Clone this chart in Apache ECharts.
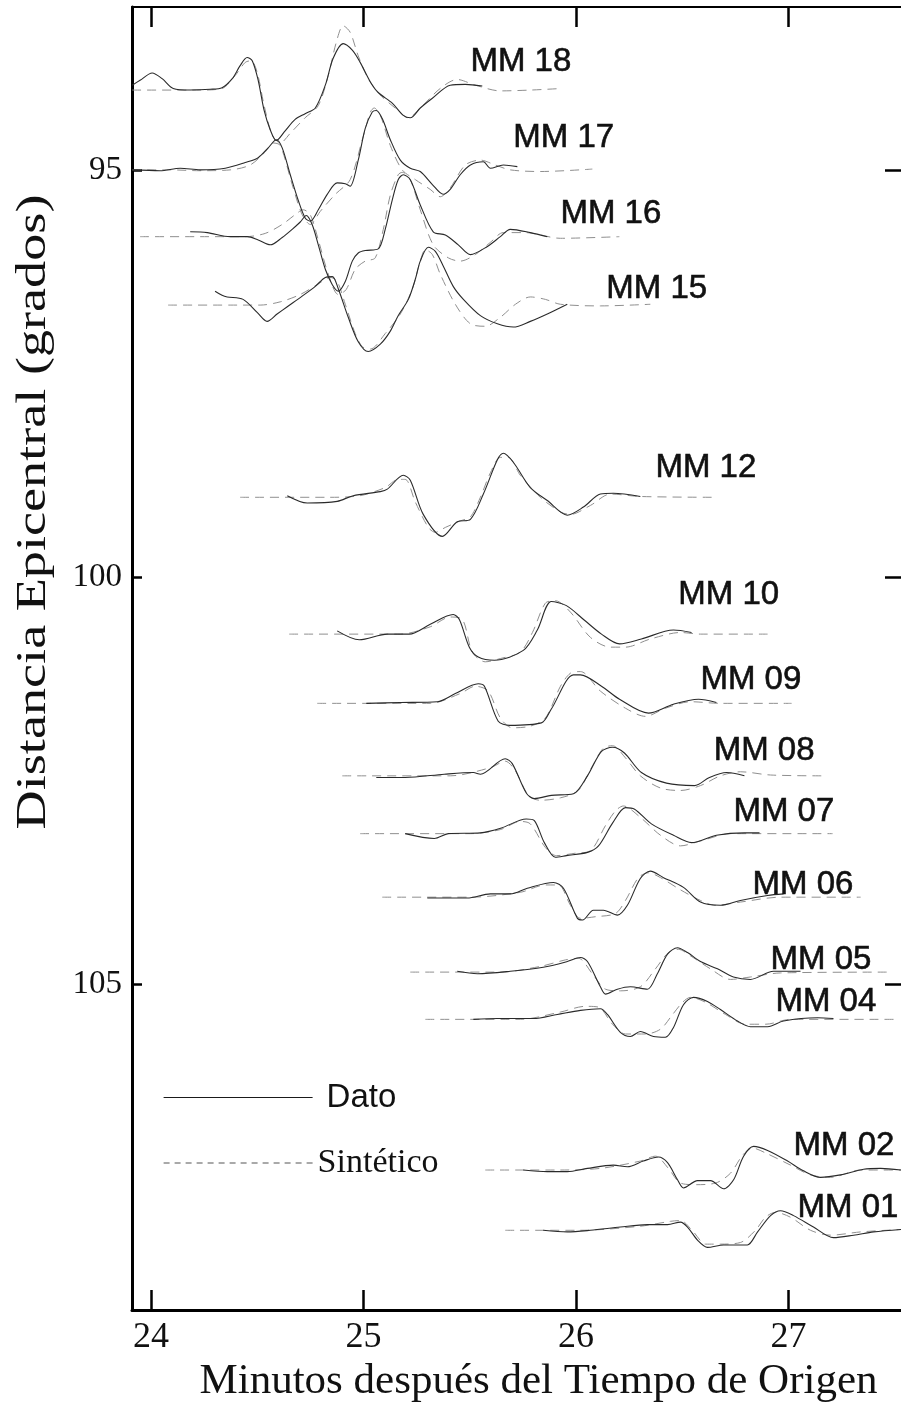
<!DOCTYPE html>
<html>
<head>
<meta charset="utf-8">
<script src="https://cdn.jsdelivr.net/npm/echarts@6/dist/echarts.min.js"></script>
<style>
html,body{margin:0;padding:0;background:#fff;}
#chart{width:901px;height:1408px;}
</style>
</head>
<body>
<div id="chart"></div>
<script>
// ---- axis ticks ----
const xTicks = [24, 25, 26, 27];
const yTicks = [95, 100, 105];

// ---- stations (label, epicentral distance in degrees) ----
const stationNames = ['MM 18','MM 17','MM 16','MM 15','MM 12','MM 10','MM 09','MM 08','MM 07','MM 06','MM 05','MM 04','MM 02','MM 01'];
const stationDist  = [94.01, 95.00, 95.82, 96.66, 99.02, 100.70, 101.55, 102.44, 103.15, 103.93, 104.85, 105.43, 107.28, 108.02];
// label anchor (minutes, degrees)
const labelTime = [25.503, 25.705, 25.927, 26.143, 26.374, 26.482, 26.586, 26.648, 26.741, 26.831, 26.916, 26.939, 27.024, 27.043];
const labelDist = [93.68, 94.61, 95.54, 96.46, 98.66, 100.22, 101.26, 102.13, 102.88, 103.78, 104.70, 105.22, 106.99, 107.74];

// ---- traces: [minutes, amplitude (deg, positive = up)] ----
const mm18Dato = [[23.911,0.05],[23.948,0.11],[24.005,0.20],[24.052,0.13],[24.104,0.01],[24.184,-0.01],[24.278,0],[24.334,0.02],[24.382,0.13],[24.419,0.29],[24.452,0.39],[24.476,0.35],[24.504,0.11],[24.532,-0.26],[24.561,-0.50],[24.589,-0.63],[24.631,-0.51],[24.678,-0.37],[24.725,-0.30],[24.773,-0.23],[24.820,0.05],[24.857,0.38],[24.904,0.56],[24.947,0.48],[24.984,0.33],[25.032,0.09],[25.069,-0.04],[25.135,-0.17],[25.187,-0.32],[25.220,-0.35],[25.267,-0.23],[25.324,-0.11],[25.408,0.05],[25.479,0.06],[25.559,0.04]];
const mm18Sint = [[23.911,-0.01],[24.231,-0.01],[24.334,0.01],[24.396,0.17],[24.443,0.33],[24.471,0.35],[24.499,0.21],[24.532,-0.20],[24.570,-0.56],[24.608,-0.66],[24.655,-0.54],[24.725,-0.35],[24.787,-0.20],[24.834,0.17],[24.871,0.57],[24.904,0.78],[24.937,0.70],[24.975,0.41],[25.022,0.13],[25.079,-0.07],[25.149,-0.23],[25.211,-0.35],[25.267,-0.23],[25.361,0.01],[25.441,0.12],[25.526,0.05],[25.644,-0.02],[25.785,-0.01],[25.936,0.01]];
const mm17Dato = [[23.911,0],[24.042,-0.01],[24.137,0.02],[24.231,0],[24.349,0.02],[24.443,0.09],[24.504,0.15],[24.551,0.27],[24.589,0.37],[24.617,0.27],[24.655,-0.06],[24.692,-0.37],[24.725,-0.59],[24.749,-0.63],[24.787,-0.49],[24.829,-0.30],[24.876,-0.16],[24.914,-0.17],[24.937,-0.20],[24.975,0.12],[25.008,0.51],[25.041,0.71],[25.060,0.73],[25.088,0.63],[25.126,0.37],[25.173,0.12],[25.220,0.02],[25.267,-0.02],[25.324,-0.18],[25.375,-0.30],[25.408,-0.24],[25.455,-0.06],[25.503,0.06],[25.564,0.10],[25.597,0.02],[25.658,0.06],[25.724,0.04]];
const mm17Sint = [[23.911,0],[24.089,0],[24.231,-0.01],[24.372,0],[24.466,0.06],[24.537,0.22],[24.575,0.33],[24.608,0.30],[24.664,-0.18],[24.711,-0.55],[24.749,-0.67],[24.796,-0.51],[24.867,-0.30],[24.937,-0.12],[24.994,0.37],[25.032,0.71],[25.050,0.76],[25.079,0.67],[25.126,0.30],[25.182,0],[25.244,-0.12],[25.314,-0.24],[25.361,-0.33],[25.408,-0.22],[25.479,0.06],[25.550,0.12],[25.620,0.06],[25.691,0],[25.832,-0.02],[26.077,0.01]];
const mm16Dato = [[24.184,0.06],[24.264,0.05],[24.372,0],[24.452,0],[24.504,-0.04],[24.561,-0.10],[24.617,-0.01],[24.664,0.09],[24.702,0.18],[24.730,0.26],[24.758,0.15],[24.787,-0.10],[24.820,-0.40],[24.853,-0.59],[24.881,-0.67],[24.914,-0.55],[24.947,-0.30],[24.975,-0.20],[25.008,-0.17],[25.069,-0.15],[25.102,0.09],[25.135,0.45],[25.163,0.70],[25.187,0.76],[25.220,0.70],[25.267,0.39],[25.328,0.06],[25.385,0.02],[25.446,-0.10],[25.503,-0.22],[25.583,-0.12],[25.644,0],[25.691,0.09],[25.785,0.05],[25.865,0]];
const mm16Sint = [[23.948,0],[24.231,0],[24.443,0],[24.537,0.04],[24.617,0.15],[24.678,0.27],[24.716,0.33],[24.749,0.27],[24.787,-0.04],[24.834,-0.46],[24.881,-0.71],[24.918,-0.65],[24.961,-0.40],[25.008,-0.30],[25.055,-0.26],[25.093,0.09],[25.126,0.51],[25.163,0.76],[25.182,0.79],[25.220,0.70],[25.267,0.33],[25.328,-0.10],[25.399,-0.26],[25.455,-0.30],[25.526,-0.22],[25.597,-0.07],[25.658,0.05],[25.762,0.05],[25.927,-0.02],[26.204,0]];
const mm15Dato = [[24.301,0.17],[24.334,0.12],[24.358,0.10],[24.433,0.07],[24.499,-0.09],[24.546,-0.20],[24.593,-0.11],[24.641,-0.02],[24.711,0.11],[24.773,0.23],[24.820,0.34],[24.853,0.35],[24.881,0.20],[24.928,-0.15],[24.975,-0.45],[25.022,-0.57],[25.079,-0.48],[25.126,-0.32],[25.163,-0.13],[25.211,0.07],[25.244,0.32],[25.267,0.54],[25.305,0.71],[25.338,0.66],[25.375,0.48],[25.422,0.23],[25.470,0.07],[25.550,-0.13],[25.630,-0.23],[25.705,-0.27],[25.785,-0.20],[25.865,-0.11],[25.959,0.01]];
const mm15Sint = [[24.080,0],[24.372,0],[24.513,0],[24.608,0.04],[24.702,0.13],[24.787,0.26],[24.843,0.34],[24.876,0.29],[24.914,0.01],[24.961,-0.35],[24.994,-0.51],[25.032,-0.54],[25.102,-0.35],[25.173,-0.11],[25.230,0.20],[25.267,0.54],[25.291,0.68],[25.324,0.62],[25.361,0.38],[25.432,0.01],[25.503,-0.23],[25.573,-0.26],[25.644,-0.15],[25.715,0.01],[25.785,0.10],[25.856,0.07],[25.927,0.01],[26.115,-0.01],[26.350,0.01]];
const mm12Dato = [[24.641,0.02],[24.735,-0.07],[24.876,-0.05],[24.951,0.02],[25.079,0.07],[25.112,0.10],[25.187,0.27],[25.220,0.21],[25.281,-0.21],[25.371,-0.48],[25.441,-0.30],[25.503,-0.27],[25.564,0.04],[25.630,0.46],[25.658,0.54],[25.705,0.43],[25.785,0.12],[25.865,-0.04],[25.959,-0.22],[26.035,-0.12],[26.115,0.04],[26.176,0.05],[26.303,0.01]];
const mm12Sint = [[24.419,0],[24.843,0],[24.984,0.02],[25.102,0.12],[25.163,0.22],[25.196,0.22],[25.244,-0.06],[25.305,-0.37],[25.338,-0.43],[25.385,-0.37],[25.455,-0.29],[25.503,-0.24],[25.550,0],[25.597,0.30],[25.644,0.49],[25.682,0.49],[25.738,0.27],[25.832,0],[25.927,-0.18],[25.974,-0.21],[26.068,-0.10],[26.162,0.04],[26.303,0.01],[26.647,0]];
const mm10Dato = [[24.876,0.04],[24.980,-0.07],[25.112,0],[25.215,0],[25.314,0.12],[25.422,0.24],[25.451,0.18],[25.498,-0.16],[25.540,-0.28],[25.616,-0.32],[25.752,-0.20],[25.818,0.05],[25.884,0.40],[25.955,0.35],[26.040,0.17],[26.120,0],[26.205,-0.12],[26.308,-0.06],[26.459,0.05],[26.544,0.02]];
const mm10Sint = [[24.650,0],[25.173,0],[25.314,0.09],[25.408,0.21],[25.465,0.18],[25.512,-0.22],[25.573,-0.34],[25.644,-0.30],[25.738,-0.22],[25.795,0.02],[25.856,0.38],[25.903,0.41],[25.974,0.27],[26.068,-0.04],[26.162,-0.16],[26.233,-0.16],[26.350,-0.06],[26.492,0.02],[26.586,0],[26.902,0]];
const mm09Dato = [[25.013,0],[25.173,0.01],[25.347,0.02],[25.432,0.12],[25.540,0.24],[25.569,0.21],[25.634,-0.22],[25.686,-0.27],[25.837,-0.24],[25.884,-0.07],[25.988,0.35],[26.021,0.35],[26.120,0.21],[26.205,0.05],[26.341,-0.12],[26.459,-0.01],[26.577,0.05],[26.661,0.01]];
const mm09Sint = [[24.782,0],[25.314,0],[25.455,0.12],[25.526,0.21],[25.587,0.15],[25.644,-0.18],[25.700,-0.30],[25.785,-0.28],[25.856,-0.18],[25.927,0.21],[25.974,0.37],[26.021,0.39],[26.115,0.15],[26.233,-0.06],[26.327,-0.16],[26.421,-0.06],[26.539,0.02],[26.680,0],[27.015,0]];
const mm08Dato = [[25.060,-0.02],[25.196,-0.02],[25.380,0.02],[25.517,0.04],[25.550,0.02],[25.667,0.21],[25.700,0.15],[25.766,-0.21],[25.804,-0.28],[25.884,-0.24],[25.988,-0.22],[26.054,0],[26.120,0.30],[26.172,0.35],[26.228,0.28],[26.308,0.04],[26.426,-0.09],[26.558,-0.12],[26.628,-0.02],[26.709,0.04],[26.793,0]];
const mm08Sint = [[24.900,0],[25.408,0],[25.597,0.10],[25.667,0.18],[25.715,0.06],[25.776,-0.24],[25.832,-0.30],[25.927,-0.27],[26.011,-0.18],[26.077,0.12],[26.129,0.34],[26.172,0.37],[26.233,0.22],[26.303,0],[26.398,-0.15],[26.492,-0.18],[26.586,-0.12],[26.680,0],[26.774,0.05],[26.916,0.01],[27.156,0]];
const mm07Dato = [[25.196,0],[25.333,-0.06],[25.399,0],[25.550,0.01],[25.649,0.07],[25.766,0.18],[25.804,0.16],[25.851,-0.11],[25.903,-0.29],[25.955,-0.27],[26.054,-0.23],[26.106,-0.15],[26.172,0.13],[26.233,0.32],[26.276,0.30],[26.355,0.12],[26.459,-0.02],[26.544,-0.11],[26.661,-0.02],[26.793,0.01],[26.864,0.01]];
const mm07Sint = [[24.984,0],[25.503,0],[25.644,0.05],[25.738,0.15],[25.785,0.12],[25.856,-0.17],[25.908,-0.27],[25.997,-0.24],[26.068,-0.21],[26.139,0.10],[26.186,0.28],[26.223,0.34],[26.303,0.20],[26.398,-0.02],[26.492,-0.15],[26.586,-0.09],[26.727,0],[27.208,0]];
const mm06Dato = [[25.300,-0.01],[25.488,-0.01],[25.597,0.04],[25.691,0.04],[25.771,0.11],[25.894,0.18],[25.941,0.11],[26.007,-0.26],[26.031,-0.28],[26.082,-0.16],[26.129,-0.16],[26.195,-0.22],[26.242,-0.10],[26.303,0.23],[26.350,0.32],[26.412,0.24],[26.506,0.12],[26.586,-0.06],[26.680,-0.10],[26.774,-0.04],[26.902,0.02],[26.977,0.04]];
const mm06Sint = [[25.088,0],[25.503,0],[25.738,0.06],[25.856,0.15],[25.917,0.15],[25.974,-0.10],[26.021,-0.26],[26.091,-0.24],[26.186,-0.20],[26.233,-0.04],[26.294,0.24],[26.341,0.30],[26.398,0.24],[26.492,0.09],[26.586,-0.04],[26.657,-0.10],[26.774,-0.06],[26.963,0],[27.340,0]];
const mm05Dato = [[25.441,0.01],[25.536,-0.02],[25.691,0.01],[25.846,0.06],[25.959,0.13],[26.021,0.18],[26.054,0.13],[26.115,-0.18],[26.139,-0.27],[26.195,-0.21],[26.256,-0.18],[26.336,-0.21],[26.383,-0.02],[26.431,0.22],[26.478,0.30],[26.525,0.24],[26.586,0.13],[26.666,0.04],[26.741,-0.06],[26.821,-0.09],[26.930,0.01],[27.057,0.01]];
const mm05Sint = [[25.220,0],[25.644,0],[25.832,0.07],[25.950,0.15],[26.011,0.17],[26.077,-0.02],[26.139,-0.21],[26.209,-0.23],[26.303,-0.18],[26.374,0.04],[26.435,0.24],[26.482,0.28],[26.539,0.20],[26.633,0.04],[26.727,-0.09],[26.821,-0.06],[26.963,-0.01],[27.467,0]];
const mm04Dato = [[25.517,0],[25.630,0.01],[25.799,0.01],[25.912,0.06],[26.021,0.11],[26.115,0.13],[26.148,0.06],[26.209,-0.16],[26.256,-0.21],[26.303,-0.15],[26.365,-0.21],[26.421,-0.22],[26.459,-0.10],[26.506,0.18],[26.553,0.27],[26.619,0.22],[26.680,0.12],[26.760,-0.02],[26.821,-0.09],[26.902,-0.09],[26.977,-0.02],[27.137,0.02],[27.212,0.01]];
const mm04Sint = [[25.291,0],[25.738,0],[25.927,0.09],[26.044,0.16],[26.106,0.15],[26.172,-0.06],[26.233,-0.18],[26.327,-0.18],[26.398,-0.12],[26.455,0.06],[26.502,0.21],[26.539,0.27],[26.610,0.21],[26.704,0.06],[26.798,-0.06],[26.893,-0.06],[27.010,0],[27.514,0]];
const mm02Dato = [[25.752,0],[25.865,-0.02],[25.959,-0.02],[26.054,0.02],[26.176,0.06],[26.242,0.04],[26.317,0.11],[26.388,0.16],[26.431,0.09],[26.478,-0.12],[26.506,-0.22],[26.572,-0.13],[26.633,-0.13],[26.695,-0.23],[26.742,-0.12],[26.789,0.17],[26.836,0.29],[26.902,0.24],[26.996,0.11],[27.071,-0.01],[27.151,-0.09],[27.245,-0.06],[27.354,0.01],[27.434,0.02],[27.53,0]];
const mm02Sint = [[25.573,0],[25.927,0],[26.115,0.02],[26.303,0.11],[26.374,0.17],[26.435,0.02],[26.492,-0.16],[26.563,-0.18],[26.657,-0.16],[26.727,-0.04],[26.784,0.18],[26.831,0.27],[26.892,0.21],[27.010,0.06],[27.104,-0.06],[27.198,-0.09],[27.340,0],[27.53,0]];
const mm01Dato = [[25.846,0],[25.959,-0.02],[26.068,0],[26.209,0.04],[26.336,0.07],[26.431,0.07],[26.492,0.10],[26.525,0.04],[26.572,-0.12],[26.619,-0.21],[26.695,-0.18],[26.760,-0.18],[26.807,-0.18],[26.855,-0.02],[26.916,0.18],[26.963,0.24],[27.024,0.18],[27.118,0.04],[27.212,-0.09],[27.307,-0.06],[27.401,-0.02],[27.53,0.01]];
const mm01Sint = [[25.667,0],[26.021,0],[26.303,0.05],[26.445,0.11],[26.492,0.12],[26.553,-0.02],[26.610,-0.17],[26.680,-0.17],[26.774,-0.15],[26.845,0],[26.892,0.16],[26.939,0.22],[27.010,0.16],[27.104,0],[27.198,-0.06],[27.340,-0.02],[27.53,0.01]];

const datoTraces = [mm18Dato, mm17Dato, mm16Dato, mm15Dato, mm12Dato, mm10Dato, mm09Dato, mm08Dato, mm07Dato, mm06Dato, mm05Dato, mm04Dato, mm02Dato, mm01Dato];
const sintTraces = [mm18Sint, mm17Sint, mm16Sint, mm15Sint, mm12Sint, mm10Sint, mm09Sint, mm08Sint, mm07Sint, mm06Sint, mm05Sint, mm04Sint, mm02Sint, mm01Sint];

const SERIF = '"Liberation Serif", "Times New Roman", serif';
const SANS = '"Liberation Sans", Arial, sans-serif';
const DATO_COLOR = '#2a2a2a';
const SINT_COLOR = '#8f8f8f';
const INK = '#111111';

const series = [];
stationNames.forEach((nm, i) => {
  const d = stationDist[i];
  series.push({
    type: 'line', name: 'Sintético', xAxisIndex: 0, yAxisIndex: 0,
    data: sintTraces[i].map(p => [p[0], d - p[1]]),
    symbol: 'none', showSymbol: false, smooth: 0.3, silent: true, z: 2,
    itemStyle: { color: SINT_COLOR },
    lineStyle: { color: SINT_COLOR, width: 1, type: [9, 6] }
  });
  series.push({
    type: 'line', name: 'Dato', xAxisIndex: 0, yAxisIndex: 0,
    data: datoTraces[i].map(p => [p[0], d - p[1]]),
    symbol: 'none', showSymbol: false, smooth: 0.3, silent: true, z: 3,
    itemStyle: { color: DATO_COLOR },
    lineStyle: { color: DATO_COLOR, width: 1.1 }
  });
});
series.push({
  type: 'scatter', name: 'labels', xAxisIndex: 0, yAxisIndex: 0,
  data: stationNames.map((nm, i) => [labelTime[i], labelDist[i], nm]),
  symbolSize: 0, silent: true, z: 5,
  itemStyle: { color: INK, opacity: 1 },
  label: {
    show: true, position: 'right', distance: 0,
    formatter: p => p.value[2],
    fontFamily: SANS, fontSize: 33, color: INK,
    textBorderColor: INK, textBorderWidth: 0.6, opacity: 1
  }
});

const hiddenSymbol = { color: 'rgba(0,0,0,0)', borderWidth: 0, opacity: 0 };

const chart = echarts.init(document.getElementById('chart'), null, { renderer: 'canvas' });
chart.setOption({
  backgroundColor: '#ffffff',
  animation: false,
  grid: { left: 132, right: 0, top: 7, bottom: 90, containLabel: false },
  legend: {
    orient: 'vertical', left: 163, top: 1081, padding: 0,
    itemWidth: 149, itemHeight: 14, itemGap: 32,
    selectedMode: false,
    textStyle: { color: INK },
    data: [
      { name: 'Dato', itemStyle: hiddenSymbol,
        textStyle: { fontFamily: SANS, fontSize: 33, color: INK, padding: [0, 0, 0, 9] },
        lineStyle: { color: '#1a1a1a', width: 1.2, type: 'solid' } },
      { name: 'Sintético', itemStyle: hiddenSymbol,
        textStyle: { fontFamily: SERIF, fontSize: 34, color: INK },
        lineStyle: { color: '#555555', width: 1.2, type: [6, 5] } }
    ]
  },
  xAxis: [
    {
      type: 'value', position: 'bottom', min: 23.91, max: 27.53,
      axisLine: { show: true, onZero: false, lineStyle: { color: '#000', width: 3 } },
      axisTick: { show: true, inside: true, length: 20, customValues: xTicks, lineStyle: { color: '#000', width: 2.5 } },
      axisLabel: { show: true, customValues: xTicks, fontFamily: SERIF, fontSize: 36, color: INK, margin: 9 },
      splitLine: { show: false },
      name: 'Minutos después del Tiempo de Origen', nameLocation: 'middle', nameGap: 42,
      nameTextStyle: { fontFamily: SERIF, fontSize: 43, color: INK, padding: [0, 0, 0, 44] }
    },
    {
      type: 'value', position: 'top', min: 23.91, max: 27.53,
      axisLine: { show: true, onZero: false, lineStyle: { color: '#000', width: 2 } },
      axisTick: { show: true, inside: true, length: 20, customValues: xTicks, lineStyle: { color: '#000', width: 2.5 } },
      axisLabel: { show: false }, splitLine: { show: false }
    }
  ],
  yAxis: [
    {
      type: 'value', position: 'left', inverse: true, min: 93, max: 109,
      axisLine: { show: true, onZero: false, lineStyle: { color: '#000', width: 3 } },
      axisTick: { show: true, inside: true, length: 10, customValues: yTicks, lineStyle: { color: '#000', width: 2.5 } },
      axisLabel: { show: true, customValues: yTicks, fontFamily: SERIF, fontSize: 33, color: INK, margin: 10 },
      splitLine: { show: false }
    },
    {
      type: 'value', position: 'right', inverse: true, min: 93, max: 109,
      axisLine: { show: false },
      axisTick: { show: true, inside: true, length: 16, customValues: yTicks, lineStyle: { color: '#000', width: 2.5 } },
      axisLabel: { show: false }, splitLine: { show: false }
    }
  ],
  graphic: [
    {
      type: 'text', x: 34, y: 512, rotation: Math.PI / 2, scaleX: 1.26, silent: true,
      style: {
        text: 'Distancia Epicentral (grados)',
        fontFamily: SERIF, fontSize: 43, fill: INK,
        align: 'center', verticalAlign: 'middle',
        textAlign: 'center', textVerticalAlign: 'middle'
      }
    }
  ],
  series: series
});
</script>
</body>
</html>
